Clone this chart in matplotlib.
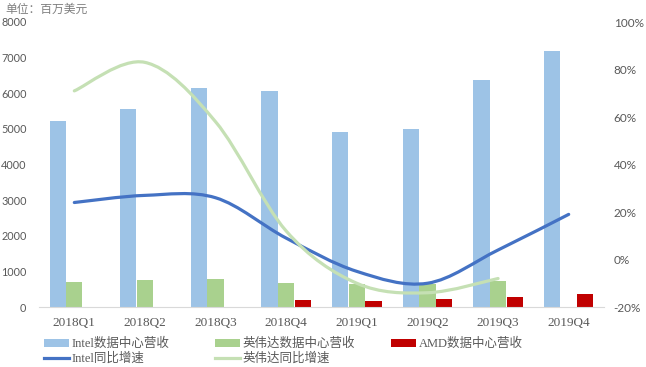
import matplotlib
matplotlib.use("Agg")
import matplotlib.pyplot as plt
from matplotlib.path import Path
from matplotlib.patches import PathPatch
from matplotlib.lines import Line2D
import numpy as np

quarters = ["2018Q1", "2018Q2", "2018Q3", "2018Q4", "2019Q1", "2019Q2", "2019Q3", "2019Q4"]
intel_rev = [5234, 5549, 6138, 6069, 4910, 4983, 6385, 7200]
nvda_rev = [701, 760, 792, 679, 634, 655, 726, None]
amd_rev = [None, None, None, 197, 168, 225, 281, 373]
intel_yoy = [24, 27, 26, 9, -5, -10, 4, 19]
nvda_yoy = [71, 83, 58, 12, -10, -14, -8]

BLUE_BAR = "#9DC3E6"
GREEN_BAR = "#A9D18E"
RED_BAR = "#C00000"
BLUE_LINE = "#4472C4"
GREEN_LINE = "#C5E0B4"
GREY = "#595959"

CJK = ["Liberation Serif", "Noto Sans CJK SC"]


def smooth_path(ys):
    """Excel-style smoothed line (Catmull-Rom as cubic Bezier)."""
    pts = np.array([(i, y) for i, y in enumerate(ys)], dtype=float)
    n = len(pts)
    verts = [tuple(pts[0])]
    codes = [Path.MOVETO]
    for i in range(n - 1):
        p0 = pts[i - 1] if i > 0 else pts[i]
        p1, p2 = pts[i], pts[i + 1]
        p3 = pts[i + 2] if i + 2 < n else pts[i + 1]
        c1 = p1 + (p2 - p0) / 6
        c2 = p2 - (p3 - p1) / 6
        verts += [tuple(c1), tuple(c2), tuple(p2)]
        codes += [Path.CURVE4] * 3
    return Path(verts, codes)


def vals(a):
    return [np.nan if v is None else v for v in a]


fig = plt.figure(figsize=(6.46, 3.67), dpi=100)
ax = fig.add_axes([39 / 646, 1 - 307 / 367, 565 / 646, 285 / 367])
x = np.arange(len(quarters))
w = 0.23

b_intel = ax.bar(x - 0.235, intel_rev, w, color=BLUE_BAR)
b_nvda = ax.bar(x, vals(nvda_rev), w, color=GREEN_BAR)
b_amd = ax.bar(x + 0.235, vals(amd_rev), w, color=RED_BAR)
ax.set_xlim(-0.5, 7.5)
ax.set_ylim(0, 8000)
ax.set_yticks(range(0, 8001, 1000))
ax.set_xticks(x)
ax.set_xticklabels(quarters, family="Liberation Serif", fontsize=9.5, color=GREY)
for t in ax.get_yticklabels():
    t.set_family("Lato")
    t.set_fontsize(7.8)
    t.set_color(GREY)
ax.tick_params(axis="both", length=0)
ax.tick_params(axis="y", pad=9)
ax.tick_params(axis="x", pad=7)
for s in ["top", "left", "right"]:
    ax.spines[s].set_visible(False)
ax.spines["bottom"].set_color("#D9D9D9")

ax2 = ax.twinx()
ax2.set_ylim(-20, 100)
ax2.set_yticks(range(-20, 101, 20))
ax2.set_yticklabels([f"{v}%" for v in range(-20, 101, 20)], family="Lato", fontsize=8.5, color=GREY)
ax2.tick_params(axis="y", length=0, pad=7)
for s in ["top", "left", "right", "bottom"]:
    ax2.spines[s].set_visible(False)

ax2.add_patch(PathPatch(smooth_path(intel_yoy), fill=False, edgecolor=BLUE_LINE, lw=2.3,
                        capstyle="round"))
ax2.add_patch(PathPatch(smooth_path(nvda_yoy), fill=False, edgecolor=GREEN_LINE, lw=2.3,
                        capstyle="round"))

fig.text(5 / 646, 1 - 10 / 367, "单位：百万美元", family=CJK, fontsize=8.5, color="#7F7F7F",
         style="italic", va="center", ha="left")

h_intel = Line2D([], [], color=BLUE_LINE, lw=2.3)
h_nvda = Line2D([], [], color=GREEN_LINE, lw=2.3)
columns = [
    (44, [b_intel, h_intel], ["Intel数据中心营收", "Intel同比增速"]),
    (215, [b_nvda, h_nvda], ["英伟达数据中心营收", "英伟达同比增速"]),
    (391, [b_amd], ["AMD数据中心营收"]),
]
for x0, hs, ls in columns:
    leg = fig.legend(hs, ls, loc="upper left", bbox_to_anchor=(x0 / 646, 1 - 338 / 367),
                     frameon=False, prop={"family": CJK, "size": 9}, handlelength=2.0,
                     handleheight=0.55, handletextpad=0.2, labelspacing=0.2,
                     borderpad=0, borderaxespad=0)
    for t in leg.get_texts():
        t.set_color(GREY)

fig.savefig("out.png", dpi=100)
